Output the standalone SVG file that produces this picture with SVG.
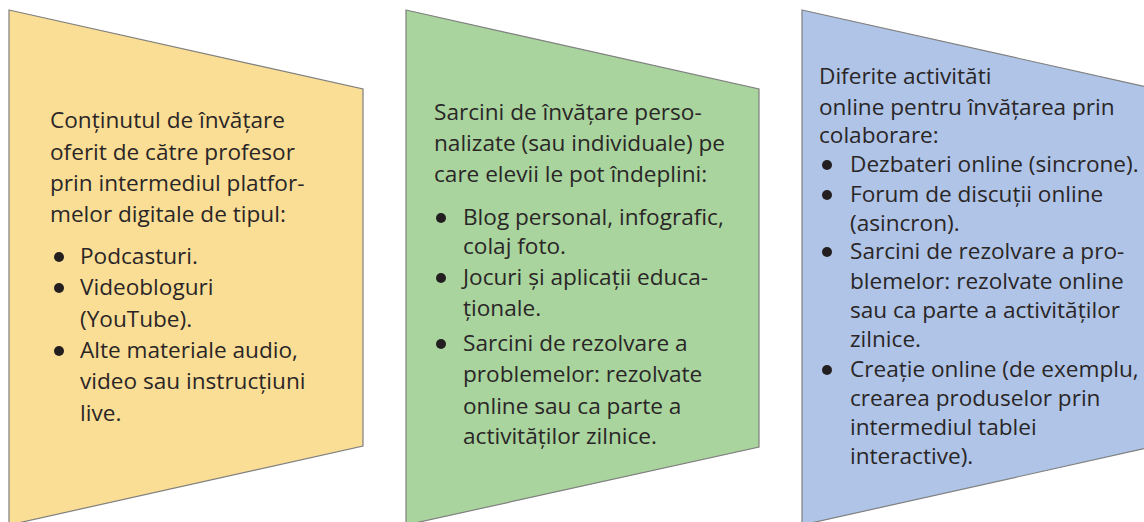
<svg xmlns="http://www.w3.org/2000/svg" width="1144" height="522" viewBox="0 0 1144 522">
<style>
.shape{stroke:#7f7f7f;stroke-width:1.2}
.t{font-family:"Open Sans","Liberation Sans",sans-serif;font-size:22.6px;fill:#2a2627}
.b{fill:#231f20}
</style>
<rect width="1144" height="522" fill="#ffffff"/>
<g id="node1">
<polygon class="shape" fill="#fade95" points="9,10 363,89 363,446 9,525"/>
<text class="t" x="50" y="128">Conținutul de învățare</text>
<text class="t" x="50" y="160">oferit de către profesor</text>
<text class="t" x="50" y="191">prin intermediul platfor-</text>
<text class="t" x="50" y="222">melor digitale de tipul:</text>
<circle class="b" cx="59" cy="257" r="5"/>
<text class="t" x="80" y="264">Podcasturi.</text>
<circle class="b" cx="59" cy="288" r="5"/>
<text class="t" x="80" y="295">Videobloguri</text>
<text class="t" x="80" y="327">(YouTube).</text>
<circle class="b" cx="59" cy="351" r="5"/>
<text class="t" x="80" y="358">Alte materiale audio,</text>
<text class="t" x="80" y="389">video sau instrucțiuni</text>
<text class="t" x="80" y="421">live.</text>
</g>
<g id="node2">
<polygon class="shape" fill="#a9d49d" points="406,10 759,89 759,447 406,525"/>
<text class="t" x="434" y="120">Sarcini de învățare perso-</text>
<text class="t" x="434" y="151">nalizate (sau individuale) pe</text>
<text class="t" x="434" y="182">care elevii le pot îndeplini:</text>
<circle class="b" cx="441" cy="218" r="5"/>
<text class="t" x="463" y="225">Blog personal, infografic,</text>
<text class="t" x="463" y="254">colaj foto.</text>
<circle class="b" cx="441" cy="278" r="5"/>
<text class="t" x="463" y="285">Jocuri și aplicații educa-</text>
<text class="t" x="463" y="316">ționale.</text>
<circle class="b" cx="441" cy="344" r="5"/>
<text class="t" x="463" y="351">Sarcini de rezolvare a</text>
<text class="t" x="463" y="382">problemelor: rezolvate</text>
<text class="t" x="463" y="414">online sau ca parte a</text>
<text class="t" x="463" y="444">activităților zilnice.</text>
</g>
<g id="node3">
<polygon class="shape" fill="#afc4e6" points="802,10 1156,89 1156,446 802,525"/>
<text class="t" x="819" y="84">Diferite activităti</text>
<text class="t" x="819" y="115">online pentru învățarea prin</text>
<text class="t" x="819" y="143">colaborare:</text>
<circle class="b" cx="827" cy="165" r="5"/>
<text class="t" x="850" y="172">Dezbateri online (sincrone).</text>
<circle class="b" cx="827" cy="195" r="5"/>
<text class="t" x="850" y="202">Forum de discuții online</text>
<text class="t" x="850" y="231">(asincron).</text>
<circle class="b" cx="827" cy="252" r="5"/>
<text class="t" x="850" y="259">Sarcini de rezolvare a pro-</text>
<text class="t" x="850" y="289">blemelor: rezolvate online</text>
<text class="t" x="850" y="318">sau ca parte a activităților</text>
<text class="t" x="850" y="347">zilnice.</text>
<circle class="b" cx="827" cy="370" r="5"/>
<text class="t" x="850" y="377">Creație online (de exemplu,</text>
<text class="t" x="850" y="406">crearea produselor prin</text>
<text class="t" x="850" y="435">intermediul tablei</text>
<text class="t" x="850" y="464">interactive).</text>
</g>
<g id="connectors"></g>
</svg>
